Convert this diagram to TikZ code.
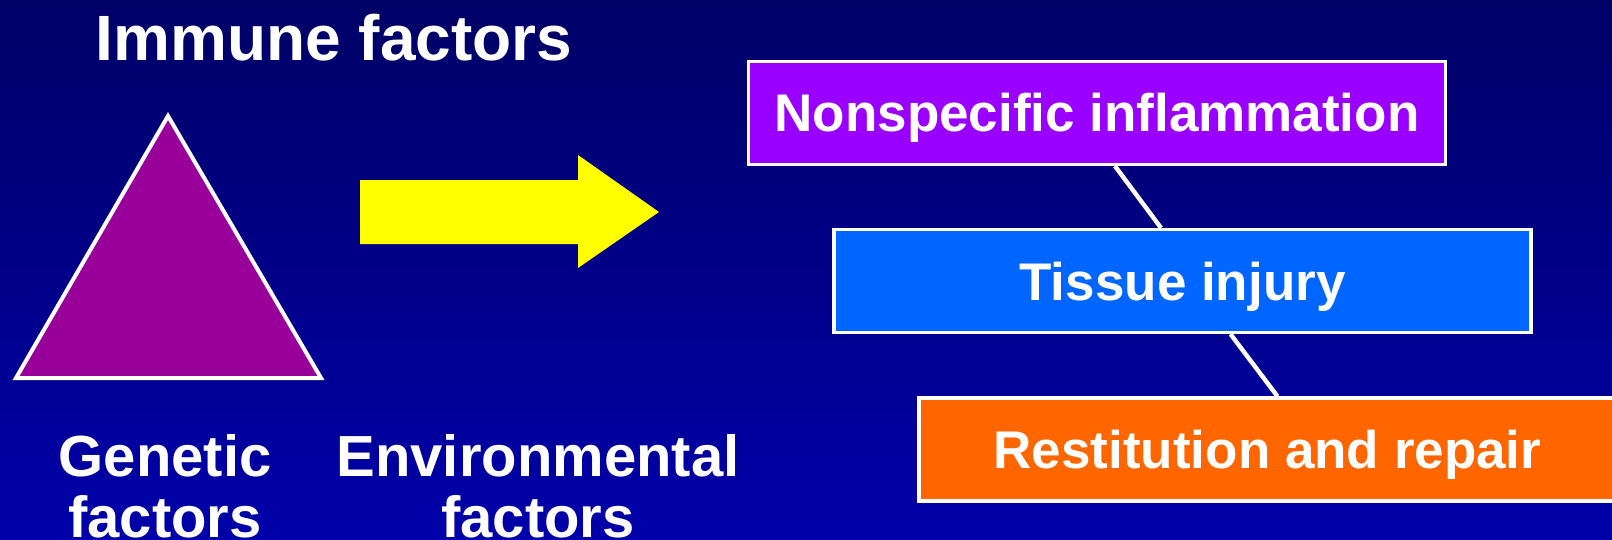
\documentclass[tikz,border=0pt]{standalone}
\usepackage{fontspec}
\setmainfont{Liberation Sans}
\definecolor{topnavy}{HTML}{000066}
\definecolor{bottomnavy}{HTML}{0000AA}
\definecolor{trianglepurple}{HTML}{990099}
\definecolor{arrowyellow}{HTML}{FFFF00}
\definecolor{inflviolet}{HTML}{9900FF}
\definecolor{injuryblue}{HTML}{0066FF}
\definecolor{repairorange}{HTML}{FF6600}
\def \factorTriangle{ (168, 116) -- (321, 378) -- (16, 378) -- cycle }
\def \bigArrow{ (360, 180) -- (578, 180) -- (578, 155) -- (659, 212)
  -- (578, 268) -- (578, 244) -- (360, 244) -- cycle }
\def \titleFont{\bfseries\fontsize{32}{34}\selectfont}
\def \labelFont{\bfseries\fontsize{29}{30.5}\selectfont}
\def \boxFont{\bfseries\fontsize{26.5}{28}\selectfont}
\usetikzlibrary{positioning}

\tikzset{
  stagebox/.style={draw=white, line width=1.6pt, text=white, font=\boxFont,
    minimum width=348.5pt, minimum height=51.5pt, inner sep=0pt,
    text height=19pt, text depth=0pt},
  factorlabel/.style={text=white, font=\labelFont, align=center, anchor=base},
  stageline/.style={draw=white, line width=2.2pt}
}

\begin{document}
\begin{tikzpicture}[x=0.5pt, y=-0.5pt]
\useasboundingbox (0, 0) rectangle (1612, 540);
\clip (0, 0) rectangle (1612, 540);
\shade[top color=topnavy, bottom color=bottomnavy] (0, 0) rectangle (1612, 540);

% left part
\node[text=white, font=\titleFont, anchor=base] (immune) at (334, 61) {Immune factors};
\filldraw[fill=trianglepurple, draw=white, line width=2pt] \factorTriangle;
\fill[arrowyellow] \bigArrow;
\node[factorlabel] (genetic) at (165, 537) {Genetic\\factors};
\node[factorlabel] (environ) at (538, 537) {Environmental\\factors};

% right part
\node[stagebox, fill=inflviolet] (infl) at (1097, 113) {Nonspecific inflammation};
\node[stagebox, fill=injuryblue] (injury) at (1182.5, 281) {Tissue injury};
\node[stagebox, fill=repairorange] (repair) at (1267.5, 449.5) {Restitution and repair};

\draw[stageline] ([xshift=9pt]infl.south) -- ([xshift=-10.75pt]injury.north);
\draw[stageline] ([xshift=24pt]injury.south) -- ([xshift=5pt]repair.north);
\end{tikzpicture}
\end{document}
